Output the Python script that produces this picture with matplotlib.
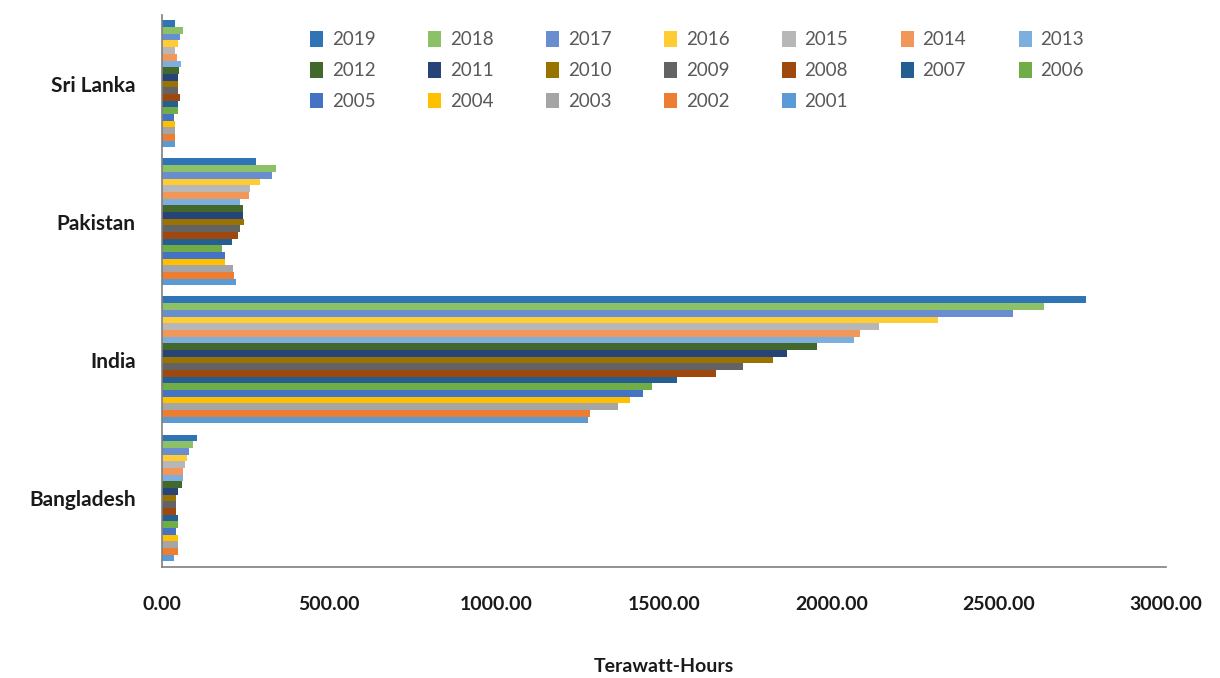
"""Horizontal grouped bars of electricity generation per country, 2001-2019."""

import matplotlib

matplotlib.use("Agg")
import matplotlib.pyplot as plt
import numpy as np

countries = ["Bangladesh", "India", "Pakistan", "Sri Lanka"]
years = list(range(2001, 2020))

# Terawatt-hours per year, listed 2001 .. 2019
bangladesh = [36, 47, 48, 49, 43, 49, 48, 41, 43, 43, 48, 60, 63, 64, 70, 76, 81, 93, 106]
india = [1273, 1279, 1363, 1399, 1437, 1464, 1538, 1654, 1735, 1826,
         1868, 1956, 2068, 2085, 2142, 2320, 2544, 2636, 2762]
pakistan = [220, 216, 212, 188, 187, 179, 208, 227, 232, 244,
            243, 242, 232, 259, 264, 292, 328, 340, 280]
sri_lanka = [38, 38, 38, 38, 36, 49, 48, 54, 48, 48, 48, 51, 56, 46, 38, 48, 55, 63, 38]

year_colors = [
    "#5B9BD5", "#ED7D31", "#A5A5A5", "#FFC000", "#4472C4", "#70AD47",
    "#255E91", "#9E480E", "#636363", "#997300", "#264478", "#43682B",
    "#7CAFDD", "#F1975A", "#B7B7B7", "#FFCD33", "#698ED0", "#8CC168",
    "#2F75B5",
]

plt.rcParams["font.family"] = ["Lato", "DejaVu Sans"]

values = np.array([bangladesh, india, pakistan, sri_lanka], dtype=float)
n_years = len(years)
bar_h = 0.92 / n_years
base = np.arange(len(countries))

fig = plt.figure(figsize=(12.2, 6.78), dpi=100)
ax = fig.add_axes([0.1328, 0.1637, 0.8229, 0.8143])

handles = []
for j, year in enumerate(years):
    offset = (j - (n_years - 1) / 2) * bar_h
    bars = ax.barh(base + offset, values[:, j], height=bar_h,
                   color=year_colors[j], label=str(year), linewidth=0)
    handles.append(bars)

ax.set_xlim(0, 3000)
ax.set_ylim(-0.5, len(countries) - 0.5)
ax.set_xticks(np.arange(0, 3001, 500))
ax.set_xticklabels([f"{v:.2f}" for v in np.arange(0, 3001, 500)],
                   fontsize=14, fontweight="bold", color="#1a1a1a")
ax.set_yticks(base)
ax.set_yticklabels(countries, fontsize=15, fontweight="bold", color="#1a1a1a")
ax.tick_params(axis="x", length=0, pad=21)
ax.tick_params(axis="y", length=0, pad=19)
ax.set_xlabel("Terawatt-Hours", fontsize=14, fontweight="bold",
              color="#1a1a1a", labelpad=32)

for side in ("top", "right"):
    ax.spines[side].set_visible(False)
for side in ("left", "bottom"):
    ax.spines[side].set_color("#7f7f7f")
    ax.spines[side].set_linewidth(1.2)

# legend runs row by row, newest year first
ncol = 7
order = list(range(n_years - 1, -1, -1))
rows = [order[i:i + ncol] for i in range(0, n_years, ncol)]
col_major = []
for c in range(ncol):
    for r in rows:
        if c < len(r):
            col_major.append(r[c])
leg = fig.legend([handles[i] for i in col_major], [str(years[i]) for i in col_major],
                 ncol=ncol, loc="upper left", bbox_to_anchor=(0.248, 0.965),
                 frameon=False, fontsize=13.5, handlelength=0.7, handleheight=0.9,
                 handletextpad=0.45, columnspacing=2.82, labelspacing=0.72,
                 borderaxespad=0)
for t in leg.get_texts():
    t.set_color("#595959")

fig.savefig("out.png", dpi=100)
